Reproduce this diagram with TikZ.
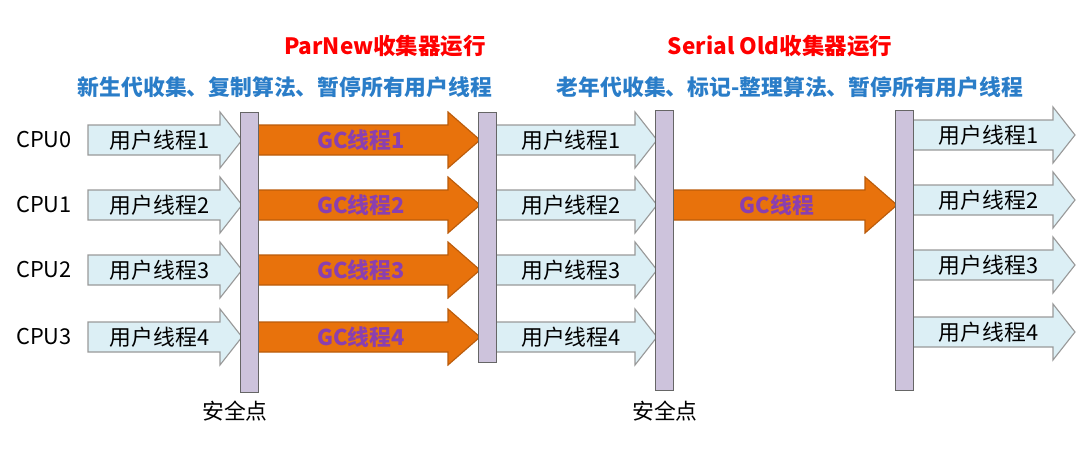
\documentclass[tikz,border=0pt]{standalone}
\usepackage{fontspec}
\setmainfont{Noto Sans CJK SC}
\begin{document}
\begin{tikzpicture}[x=0.025cm,y=-0.025cm,
  bar/.style={draw=gray!80!black,fill=barc,line width=0.6pt},
  lbl/.style={font=\fontsize{15.5}{17}\selectfont,inner sep=0pt},
  ttl/.style={font=\bfseries\fontsize{16}{18}\selectfont,text=red,inner sep=0pt},
  sub/.style={font=\bfseries\fontsize{15.5}{17}\selectfont,text=subc,inner sep=0pt}]
\definecolor{barc}{HTML}{CDC3DC}
\definecolor{userc}{HTML}{DCEFF5}
\definecolor{gcc}{HTML}{E8720C}
\definecolor{gctext}{HTML}{8A3FB0}
\definecolor{subc}{HTML}{2A7DC8}
\newcommand{\tharrow}[9]{%
  \draw[draw=#6,fill=#5,line width=0.8pt] (#2,#4-15) -- (#3-#9,#4-15) -- (#3-#9,#4-28) -- (#3,#4) -- (#3-#9,#4+28) -- (#3-#9,#4+15) -- (#2,#4+15) -- cycle;
  \node[lbl,text=#8] (#1) at ({(#2+#3-#9/2)/2},#4) {#7};}
\path[use as bounding box] (0,0) rectangle (1086,460);
\node[ttl] (t1) at (385,46) {ParNew收集器运行};
\node[ttl] (t2) at (780,46) {Serial Old收集器运行};
\node[sub] (s1) at (285,87) {新生代收集、复制算法、暂停所有用户线程};
\node[sub] (s2) at (790,87) {老年代收集、标记-整理算法、暂停所有用户线程};
\foreach \i/\y in {0/140,1/205,2/270,3/337}{
  \node[lbl] (cpu\i) at (44,\y) {CPU\i};
  \pgfmathtruncatemacro{\n}{\i+1}
  \tharrow{ua\i}{88}{242}{\y}{userc}{gray!80}{用户线程\n}{black}{22}
  \tharrow{gc\i}{258}{480}{\y}{gcc}{gcc!80!black}{\textbf{GC线程\n}}{gctext}{32}
  \tharrow{ub\i}{496}{657}{\y}{userc}{gray!80}{用户线程\n}{black}{22}
  \tharrow{uc\i}{913}{1075}{\y-5}{userc}{gray!80}{用户线程\n}{black}{22}
}
\tharrow{gcs}{673}{897}{205}{gcc}{gcc!80!black}{\textbf{GC线程}}{gctext}{32}
\draw[bar] (240,112) rectangle (258,392); \node[lbl] (b1) at (249,112) {};
\draw[bar] (478,112) rectangle (496,362); \node[lbl] (b2) at (487,112) {};
\draw[bar] (655,110) rectangle (673,390); \node[lbl] (b3) at (664,110) {};
\draw[bar] (895,110) rectangle (913,390); \node[lbl] (b4) at (904,110) {};
\node[lbl] (sp1) at (235,411) {安全点};
\node[lbl] (sp2) at (665,411) {安全点};
\end{tikzpicture}
\end{document}
